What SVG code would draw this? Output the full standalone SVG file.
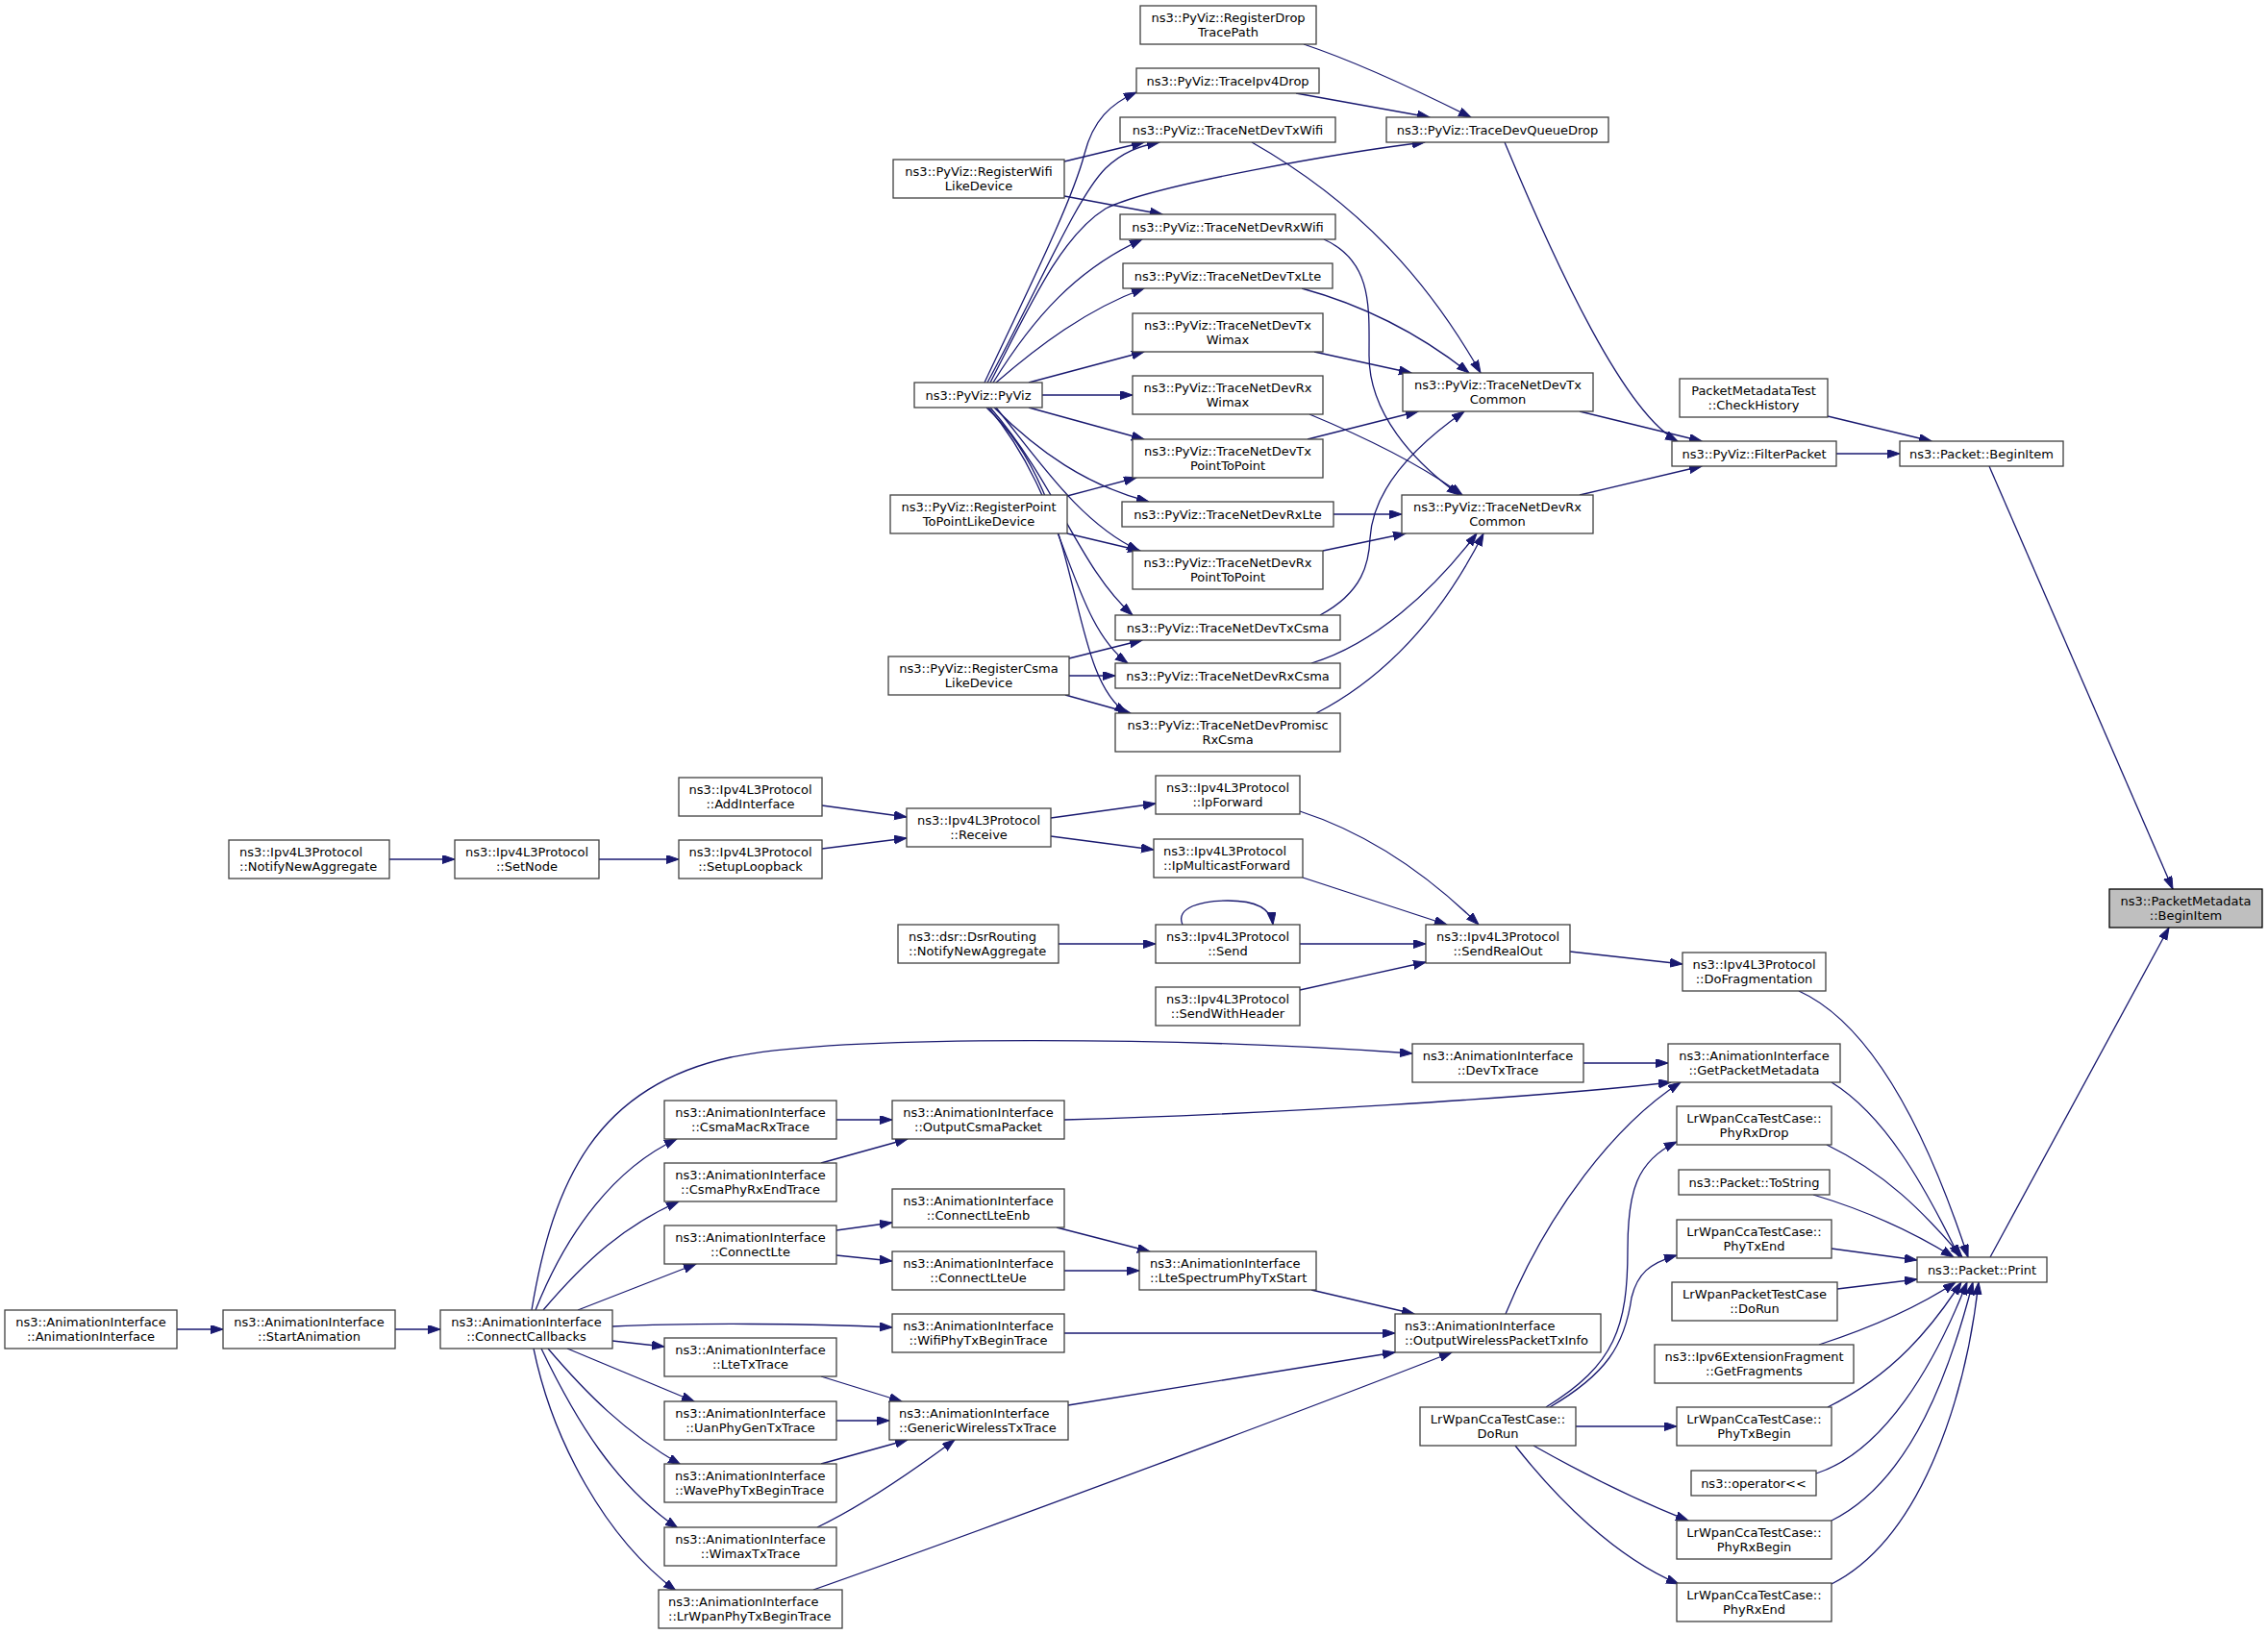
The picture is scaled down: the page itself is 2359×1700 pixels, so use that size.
<svg xmlns="http://www.w3.org/2000/svg" width="2359" height="1700" viewBox="0 0 2359 1700">
<style>
.n rect{fill:#fff;stroke:#404040;stroke-width:1.3}
.m rect{fill:#bfbfbf;stroke:#000;stroke-width:1.3}
text{font-family:"DejaVu Sans","Liberation Sans",sans-serif;font-size:13px;fill:#000}
.c{text-anchor:middle}
#edges path{fill:none;stroke:#191970;stroke-width:1.3;marker-end:url(#a)}
</style>
<defs>
<marker id="a" markerUnits="userSpaceOnUse" markerWidth="14" markerHeight="10" refX="13" refY="4.5" orient="auto">
<path d="M0,0 L13,4.5 L0,9 z" fill="#191970" stroke="#191970" stroke-width="1"/>
</marker>
</defs>
<rect x="0" y="0" width="2359" height="1700" fill="#fff"/>
<g id="edges">
<path d="M2069,485 L2260,925"/>
<path d="M2070,1308 L2256,965"/>
<path d="M1901,433 L2009,459"/>
<path d="M1910,472 L1976,472"/>
<path d="M1565,148 C1620,280 1690,430 1745,459"/>
<path d="M1643,428 L1770,459"/>
<path d="M1643,515 L1770,485"/>
<path d="M1356,46 C1410,64 1470,92 1530,122"/>
<path d="M1348,97 C1400,106 1445,114 1487,122"/>
<path d="M1030,398 C1075,310 1105,245 1150,217 C1200,192 1400,158 1482,148"/>
<path d="M1302,148 C1420,215 1490,300 1540,388"/>
<path d="M1377,249 C1428,272 1424,320 1424,370 C1424,430 1470,480 1518,515"/>
<path d="M1354,300 C1420,318 1480,350 1528,388"/>
<path d="M1367,366 L1468,388"/>
<path d="M1362,431 C1420,455 1480,485 1521,515"/>
<path d="M1360,457 L1475,428"/>
<path d="M1387,535 L1458,535"/>
<path d="M1376,573 L1462,555"/>
<path d="M1373,640 C1418,616 1424,585 1425,560 C1428,510 1470,465 1523,428"/>
<path d="M1364,690 C1430,670 1490,615 1536,555"/>
<path d="M1369,742 C1450,700 1505,630 1543,555"/>
<path d="M1024,398 C1070,300 1115,210 1128,160 C1137,125 1155,108 1182,96"/>
<path d="M1027,398 C1080,300 1120,205 1150,175 C1168,158 1185,152 1206,148"/>
<path d="M1033,398 C1075,330 1120,280 1188,249"/>
<path d="M1036,398 C1080,360 1130,322 1190,300"/>
<path d="M1070,398 L1190,366"/>
<path d="M1084,411 L1178,411"/>
<path d="M1070,424 L1190,457"/>
<path d="M1034,424 C1080,470 1130,505 1195,522"/>
<path d="M1036,424 C1085,485 1125,545 1185,573"/>
<path d="M1030,424 C1100,505 1122,590 1178,640"/>
<path d="M1028,424 C1110,520 1112,645 1173,690"/>
<path d="M1026,424 C1130,520 1108,700 1172,742"/>
<path d="M1107,168 L1190,148"/>
<path d="M1107,204 L1209,223"/>
<path d="M1110,516 L1182,497"/>
<path d="M1110,555 L1186,573"/>
<path d="M1112,685 L1188,666"/>
<path d="M1112,703 L1160,703"/>
<path d="M1108,723 L1176,742"/>
<path d="M405,894 L473,894"/>
<path d="M623,894 L706,894"/>
<path d="M855,838 L943,850"/>
<path d="M855,883 L943,872"/>
<path d="M1093,851 L1202,836"/>
<path d="M1093,870 L1200,884"/>
<path d="M1352,844 C1420,866 1480,905 1538,962"/>
<path d="M1355,913 L1505,962"/>
<path d="M1352,982 L1483,982"/>
<path d="M1230,962 C1222,944 1250,937 1277,937 C1305,937 1322,944 1324,962"/>
<path d="M1101,982 L1202,982"/>
<path d="M1352,1030 L1483,1001"/>
<path d="M1633,990 L1750,1003"/>
<path d="M1871,1031 C1935,1060 1995,1150 2047,1308"/>
<path d="M1905,1126 C1960,1160 2000,1230 2038,1308"/>
<path d="M1900,1191 C1960,1220 2000,1260 2041,1308"/>
<path d="M1886,1243 C1950,1262 1995,1285 2032,1308"/>
<path d="M1905,1299 L1994,1311"/>
<path d="M1911,1341 L1994,1331"/>
<path d="M1892,1399 C1950,1380 1995,1360 2034,1334"/>
<path d="M1901,1464 C1970,1430 2010,1380 2040,1334"/>
<path d="M1889,1533 C1960,1510 2012,1420 2046,1334"/>
<path d="M1905,1582 C1990,1540 2030,1420 2052,1334"/>
<path d="M1905,1648 C2000,1600 2045,1450 2058,1334"/>
<path d="M1608,1464 C1680,1420 1693,1380 1693,1300 C1693,1240 1702,1208 1744,1188"/>
<path d="M1612,1464 C1670,1430 1690,1400 1697,1350 C1703,1325 1716,1314 1744,1306"/>
<path d="M1639,1484 L1744,1484"/>
<path d="M1595,1504 C1650,1535 1700,1560 1756,1582"/>
<path d="M1576,1504 C1620,1560 1680,1620 1746,1648"/>
<path d="M184,1383 L232,1383"/>
<path d="M411,1383 L458,1383"/>
<path d="M553,1363 C575,1230 620,1130 760,1100 C880,1075 1250,1080 1469,1096"/>
<path d="M557,1363 C590,1280 640,1215 704,1185"/>
<path d="M565,1363 C610,1310 650,1275 706,1250"/>
<path d="M601,1363 L724,1315"/>
<path d="M637,1380 C720,1376 840,1377 928,1381"/>
<path d="M637,1395 L691,1401"/>
<path d="M590,1403 L722,1458"/>
<path d="M570,1403 C610,1450 650,1490 708,1524"/>
<path d="M563,1403 C600,1480 640,1545 705,1590"/>
<path d="M555,1403 C575,1500 630,1600 703,1655"/>
<path d="M870,1165 L928,1165"/>
<path d="M854,1210 L944,1185"/>
<path d="M870,1280 L928,1272"/>
<path d="M870,1306 L928,1312"/>
<path d="M1099,1277 L1196,1302"/>
<path d="M1107,1322 L1185,1322"/>
<path d="M1364,1342 L1471,1367"/>
<path d="M1107,1387 L1451,1387"/>
<path d="M1111,1462 C1250,1440 1380,1418 1451,1407"/>
<path d="M846,1654 C1000,1600 1350,1470 1510,1407"/>
<path d="M854,1432 L938,1458"/>
<path d="M870,1478 L925,1478"/>
<path d="M854,1523 L944,1498"/>
<path d="M850,1589 C900,1565 950,1530 993,1498"/>
<path d="M1107,1165 C1300,1160 1600,1142 1738,1126"/>
<path d="M1647,1106 L1735,1106"/>
<path d="M1566,1367 C1610,1260 1680,1170 1748,1126"/>
</g>
<g id="n_regdrop" class="n"><rect x="1186" y="6" width="183" height="40"/><text class="c" x="1277.5" y="23">ns3::PyViz::RegisterDrop</text><text class="c" x="1277.5" y="37.5">TracePath</text></g>
<g id="n_ipv4drop" class="n"><rect x="1182" y="71" width="190" height="26"/><text class="c" x="1277" y="88.5">ns3::PyViz::TraceIpv4Drop</text></g>
<g id="n_txwifi" class="n"><rect x="1165" y="122" width="224" height="26"/><text class="c" x="1277" y="139.5">ns3::PyViz::TraceNetDevTxWifi</text></g>
<g id="n_tdqd" class="n"><rect x="1442" y="122" width="231" height="26"/><text class="c" x="1557.5" y="139.5">ns3::PyViz::TraceDevQueueDrop</text></g>
<g id="n_regwifi" class="n"><rect x="929" y="166" width="178" height="40"/><text class="c" x="1018" y="183">ns3::PyViz::RegisterWifi</text><text class="c" x="1018" y="197.5">LikeDevice</text></g>
<g id="n_rxwifi" class="n"><rect x="1165" y="223" width="224" height="26"/><text class="c" x="1277" y="240.5">ns3::PyViz::TraceNetDevRxWifi</text></g>
<g id="n_txlte" class="n"><rect x="1168" y="274" width="218" height="26"/><text class="c" x="1277" y="291.5">ns3::PyViz::TraceNetDevTxLte</text></g>
<g id="n_txwimax" class="n"><rect x="1178" y="326" width="198" height="40"/><text class="c" x="1277" y="343">ns3::PyViz::TraceNetDevTx</text><text class="c" x="1277" y="357.5">Wimax</text></g>
<g id="n_pyviz" class="n"><rect x="951" y="398" width="133" height="26"/><text class="c" x="1017.5" y="415.5">ns3::PyViz::PyViz</text></g>
<g id="n_rxwimax" class="n"><rect x="1178" y="391" width="198" height="40"/><text class="c" x="1277" y="408">ns3::PyViz::TraceNetDevRx</text><text class="c" x="1277" y="422.5">Wimax</text></g>
<g id="n_txcommon" class="n"><rect x="1459" y="388" width="198" height="40"/><text class="c" x="1558" y="405">ns3::PyViz::TraceNetDevTx</text><text class="c" x="1558" y="419.5">Common</text></g>
<g id="n_checkhist" class="n"><rect x="1747" y="394" width="154" height="40"/><text class="c" x="1824" y="411">PacketMetadataTest</text><text class="c" x="1824" y="425.5">::CheckHistory</text></g>
<g id="n_filter" class="n"><rect x="1739" y="459" width="171" height="26"/><text class="c" x="1824.5" y="476.5">ns3::PyViz::FilterPacket</text></g>
<g id="n_pbegin" class="n"><rect x="1976" y="459" width="170" height="26"/><text class="c" x="2061" y="476.5">ns3::Packet::BeginItem</text></g>
<g id="n_txp2p" class="n"><rect x="1178" y="457" width="198" height="40"/><text class="c" x="1277" y="474">ns3::PyViz::TraceNetDevTx</text><text class="c" x="1277" y="488.5">PointToPoint</text></g>
<g id="n_regp2p" class="n"><rect x="926" y="515" width="184" height="40"/><text class="c" x="1018" y="532">ns3::PyViz::RegisterPoint</text><text class="c" x="1018" y="546.5">ToPointLikeDevice</text></g>
<g id="n_rxlte" class="n"><rect x="1167" y="522" width="220" height="26"/><text class="c" x="1277" y="539.5">ns3::PyViz::TraceNetDevRxLte</text></g>
<g id="n_rxcommon" class="n"><rect x="1458" y="515" width="199" height="40"/><text class="c" x="1557.5" y="532">ns3::PyViz::TraceNetDevRx</text><text class="c" x="1557.5" y="546.5">Common</text></g>
<g id="n_rxp2p" class="n"><rect x="1178" y="573" width="198" height="40"/><text class="c" x="1277" y="590">ns3::PyViz::TraceNetDevRx</text><text class="c" x="1277" y="604.5">PointToPoint</text></g>
<g id="n_txcsma" class="n"><rect x="1160" y="640" width="234" height="26"/><text class="c" x="1277" y="657.5">ns3::PyViz::TraceNetDevTxCsma</text></g>
<g id="n_regcsma" class="n"><rect x="924" y="683" width="188" height="40"/><text class="c" x="1018" y="700">ns3::PyViz::RegisterCsma</text><text class="c" x="1018" y="714.5">LikeDevice</text></g>
<g id="n_rxcsma" class="n"><rect x="1160" y="690" width="234" height="26"/><text class="c" x="1277" y="707.5">ns3::PyViz::TraceNetDevRxCsma</text></g>
<g id="n_promisc" class="n"><rect x="1160" y="742" width="234" height="40"/><text class="c" x="1277" y="759">ns3::PyViz::TraceNetDevPromisc</text><text class="c" x="1277" y="773.5">RxCsma</text></g>
<g id="n_addif" class="n"><rect x="706" y="809" width="149" height="40"/><text class="c" x="780.5" y="826">ns3::Ipv4L3Protocol</text><text class="c" x="780.5" y="840.5">::AddInterface</text></g>
<g id="n_ipfwd" class="n"><rect x="1202" y="807" width="150" height="40"/><text class="c" x="1277" y="824">ns3::Ipv4L3Protocol</text><text class="c" x="1277" y="838.5">::IpForward</text></g>
<g id="n_receive" class="n"><rect x="943" y="841" width="150" height="40"/><text class="c" x="1018" y="858">ns3::Ipv4L3Protocol</text><text class="c" x="1018" y="872.5">::Receive</text></g>
<g id="n_ipmfwd" class="n"><rect x="1200" y="873" width="155" height="40"/><text x="1210" y="890">ns3::Ipv4L3Protocol</text><text x="1210" y="904.5">::IpMulticastForward</text></g>
<g id="n_notifyagg" class="n"><rect x="238" y="874" width="167" height="40"/><text x="249" y="891">ns3::Ipv4L3Protocol</text><text x="249" y="905.5">::NotifyNewAggregate</text></g>
<g id="n_setnode" class="n"><rect x="473" y="874" width="150" height="40"/><text class="c" x="548" y="891">ns3::Ipv4L3Protocol</text><text class="c" x="548" y="905.5">::SetNode</text></g>
<g id="n_setuplb" class="n"><rect x="706" y="874" width="149" height="40"/><text class="c" x="780.5" y="891">ns3::Ipv4L3Protocol</text><text class="c" x="780.5" y="905.5">::SetupLoopback</text></g>
<g id="n_pmbegin" class="m"><rect x="2194" y="925" width="159" height="40"/><text class="c" x="2273.5" y="942">ns3::PacketMetadata</text><text class="c" x="2273.5" y="956.5">::BeginItem</text></g>
<g id="n_dsr" class="n"><rect x="934" y="962" width="167" height="40"/><text x="945" y="979">ns3::dsr::DsrRouting</text><text x="945" y="993.5">::NotifyNewAggregate</text></g>
<g id="n_send" class="n"><rect x="1202" y="962" width="150" height="40"/><text class="c" x="1277" y="979">ns3::Ipv4L3Protocol</text><text class="c" x="1277" y="993.5">::Send</text></g>
<g id="n_sendreal" class="n"><rect x="1483" y="962" width="150" height="40"/><text class="c" x="1558" y="979">ns3::Ipv4L3Protocol</text><text class="c" x="1558" y="993.5">::SendRealOut</text></g>
<g id="n_dofrag" class="n"><rect x="1750" y="991" width="149" height="40"/><text class="c" x="1824.5" y="1008">ns3::Ipv4L3Protocol</text><text class="c" x="1824.5" y="1022.5">::DoFragmentation</text></g>
<g id="n_sendwh" class="n"><rect x="1202" y="1027" width="150" height="40"/><text class="c" x="1277" y="1044">ns3::Ipv4L3Protocol</text><text class="c" x="1277" y="1058.5">::SendWithHeader</text></g>
<g id="n_devtx" class="n"><rect x="1469" y="1086" width="178" height="40"/><text class="c" x="1558" y="1103">ns3::AnimationInterface</text><text class="c" x="1558" y="1117.5">::DevTxTrace</text></g>
<g id="n_getpm" class="n"><rect x="1735" y="1086" width="179" height="40"/><text class="c" x="1824.5" y="1103">ns3::AnimationInterface</text><text class="c" x="1824.5" y="1117.5">::GetPacketMetadata</text></g>
<g id="n_csmamac" class="n"><rect x="691" y="1145" width="179" height="40"/><text class="c" x="780.5" y="1162">ns3::AnimationInterface</text><text class="c" x="780.5" y="1176.5">::CsmaMacRxTrace</text></g>
<g id="n_outcsma" class="n"><rect x="928" y="1145" width="179" height="40"/><text class="c" x="1017.5" y="1162">ns3::AnimationInterface</text><text class="c" x="1017.5" y="1176.5">::OutputCsmaPacket</text></g>
<g id="n_phyrxdrop" class="n"><rect x="1744" y="1151" width="161" height="40"/><text class="c" x="1824.5" y="1168">LrWpanCcaTestCase::</text><text class="c" x="1824.5" y="1182.5">PhyRxDrop</text></g>
<g id="n_csmaphy" class="n"><rect x="691" y="1210" width="179" height="40"/><text class="c" x="780.5" y="1227">ns3::AnimationInterface</text><text class="c" x="780.5" y="1241.5">::CsmaPhyRxEndTrace</text></g>
<g id="n_tostring" class="n"><rect x="1746" y="1217" width="157" height="26"/><text class="c" x="1824.5" y="1234.5">ns3::Packet::ToString</text></g>
<g id="n_ltenb" class="n"><rect x="928" y="1237" width="179" height="40"/><text class="c" x="1017.5" y="1254">ns3::AnimationInterface</text><text class="c" x="1017.5" y="1268.5">::ConnectLteEnb</text></g>
<g id="n_phytxend" class="n"><rect x="1744" y="1269" width="161" height="40"/><text class="c" x="1824.5" y="1286">LrWpanCcaTestCase::</text><text class="c" x="1824.5" y="1300.5">PhyTxEnd</text></g>
<g id="n_connlte" class="n"><rect x="691" y="1275" width="179" height="40"/><text class="c" x="780.5" y="1292">ns3::AnimationInterface</text><text class="c" x="780.5" y="1306.5">::ConnectLte</text></g>
<g id="n_lteue" class="n"><rect x="928" y="1302" width="179" height="40"/><text class="c" x="1017.5" y="1319">ns3::AnimationInterface</text><text class="c" x="1017.5" y="1333.5">::ConnectLteUe</text></g>
<g id="n_ltespec" class="n"><rect x="1185" y="1302" width="184" height="40"/><text x="1196" y="1319">ns3::AnimationInterface</text><text x="1196" y="1333.5">::LteSpectrumPhyTxStart</text></g>
<g id="n_print" class="n"><rect x="1994" y="1308" width="135" height="26"/><text class="c" x="2061.5" y="1325.5">ns3::Packet::Print</text></g>
<g id="n_lrpkt" class="n"><rect x="1739" y="1334" width="172" height="40"/><text class="c" x="1825" y="1351">LrWpanPacketTestCase</text><text class="c" x="1825" y="1365.5">::DoRun</text></g>
<g id="n_animif" class="n"><rect x="5" y="1363" width="179" height="40"/><text class="c" x="94.5" y="1380">ns3::AnimationInterface</text><text class="c" x="94.5" y="1394.5">::AnimationInterface</text></g>
<g id="n_startanim" class="n"><rect x="232" y="1363" width="179" height="40"/><text class="c" x="321.5" y="1380">ns3::AnimationInterface</text><text class="c" x="321.5" y="1394.5">::StartAnimation</text></g>
<g id="n_connectcb" class="n"><rect x="458" y="1363" width="179" height="40"/><text class="c" x="547.5" y="1380">ns3::AnimationInterface</text><text class="c" x="547.5" y="1394.5">::ConnectCallbacks</text></g>
<g id="n_wifiphy" class="n"><rect x="928" y="1367" width="179" height="40"/><text class="c" x="1017.5" y="1384">ns3::AnimationInterface</text><text class="c" x="1017.5" y="1398.5">::WifiPhyTxBeginTrace</text></g>
<g id="n_outwireless" class="n"><rect x="1451" y="1367" width="214" height="40"/><text x="1461" y="1384">ns3::AnimationInterface</text><text x="1461" y="1398.5">::OutputWirelessPacketTxInfo</text></g>
<g id="n_ltetx" class="n"><rect x="691" y="1392" width="179" height="40"/><text class="c" x="780.5" y="1409">ns3::AnimationInterface</text><text class="c" x="780.5" y="1423.5">::LteTxTrace</text></g>
<g id="n_getfrag" class="n"><rect x="1721" y="1399" width="207" height="40"/><text class="c" x="1824.5" y="1416">ns3::Ipv6ExtensionFragment</text><text class="c" x="1824.5" y="1430.5">::GetFragments</text></g>
<g id="n_uan" class="n"><rect x="691" y="1458" width="179" height="40"/><text class="c" x="780.5" y="1475">ns3::AnimationInterface</text><text class="c" x="780.5" y="1489.5">::UanPhyGenTxTrace</text></g>
<g id="n_generic" class="n"><rect x="925" y="1458" width="186" height="40"/><text x="935" y="1475">ns3::AnimationInterface</text><text x="935" y="1489.5">::GenericWirelessTxTrace</text></g>
<g id="n_lrdorun" class="n"><rect x="1477" y="1464" width="162" height="40"/><text class="c" x="1558" y="1481">LrWpanCcaTestCase::</text><text class="c" x="1558" y="1495.5">DoRun</text></g>
<g id="n_phytxbegin" class="n"><rect x="1744" y="1464" width="161" height="40"/><text class="c" x="1824.5" y="1481">LrWpanCcaTestCase::</text><text class="c" x="1824.5" y="1495.5">PhyTxBegin</text></g>
<g id="n_wave" class="n"><rect x="691" y="1523" width="179" height="40"/><text x="702" y="1540">ns3::AnimationInterface</text><text x="702" y="1554.5">::WavePhyTxBeginTrace</text></g>
<g id="n_oplt" class="n"><rect x="1759" y="1530" width="130" height="26"/><text class="c" x="1824" y="1547.5">ns3::operator&lt;&lt;</text></g>
<g id="n_phyrxbegin" class="n"><rect x="1744" y="1582" width="161" height="40"/><text class="c" x="1824.5" y="1599">LrWpanCcaTestCase::</text><text class="c" x="1824.5" y="1613.5">PhyRxBegin</text></g>
<g id="n_wimaxtx" class="n"><rect x="691" y="1589" width="179" height="40"/><text class="c" x="780.5" y="1606">ns3::AnimationInterface</text><text class="c" x="780.5" y="1620.5">::WimaxTxTrace</text></g>
<g id="n_phyrxend" class="n"><rect x="1744" y="1647" width="161" height="40"/><text class="c" x="1824.5" y="1664">LrWpanCcaTestCase::</text><text class="c" x="1824.5" y="1678.5">PhyRxEnd</text></g>
<g id="n_lrwpanphy" class="n"><rect x="685" y="1654" width="191" height="40"/><text x="695" y="1671">ns3::AnimationInterface</text><text x="695" y="1685.5">::LrWpanPhyTxBeginTrace</text></g>
</svg>
